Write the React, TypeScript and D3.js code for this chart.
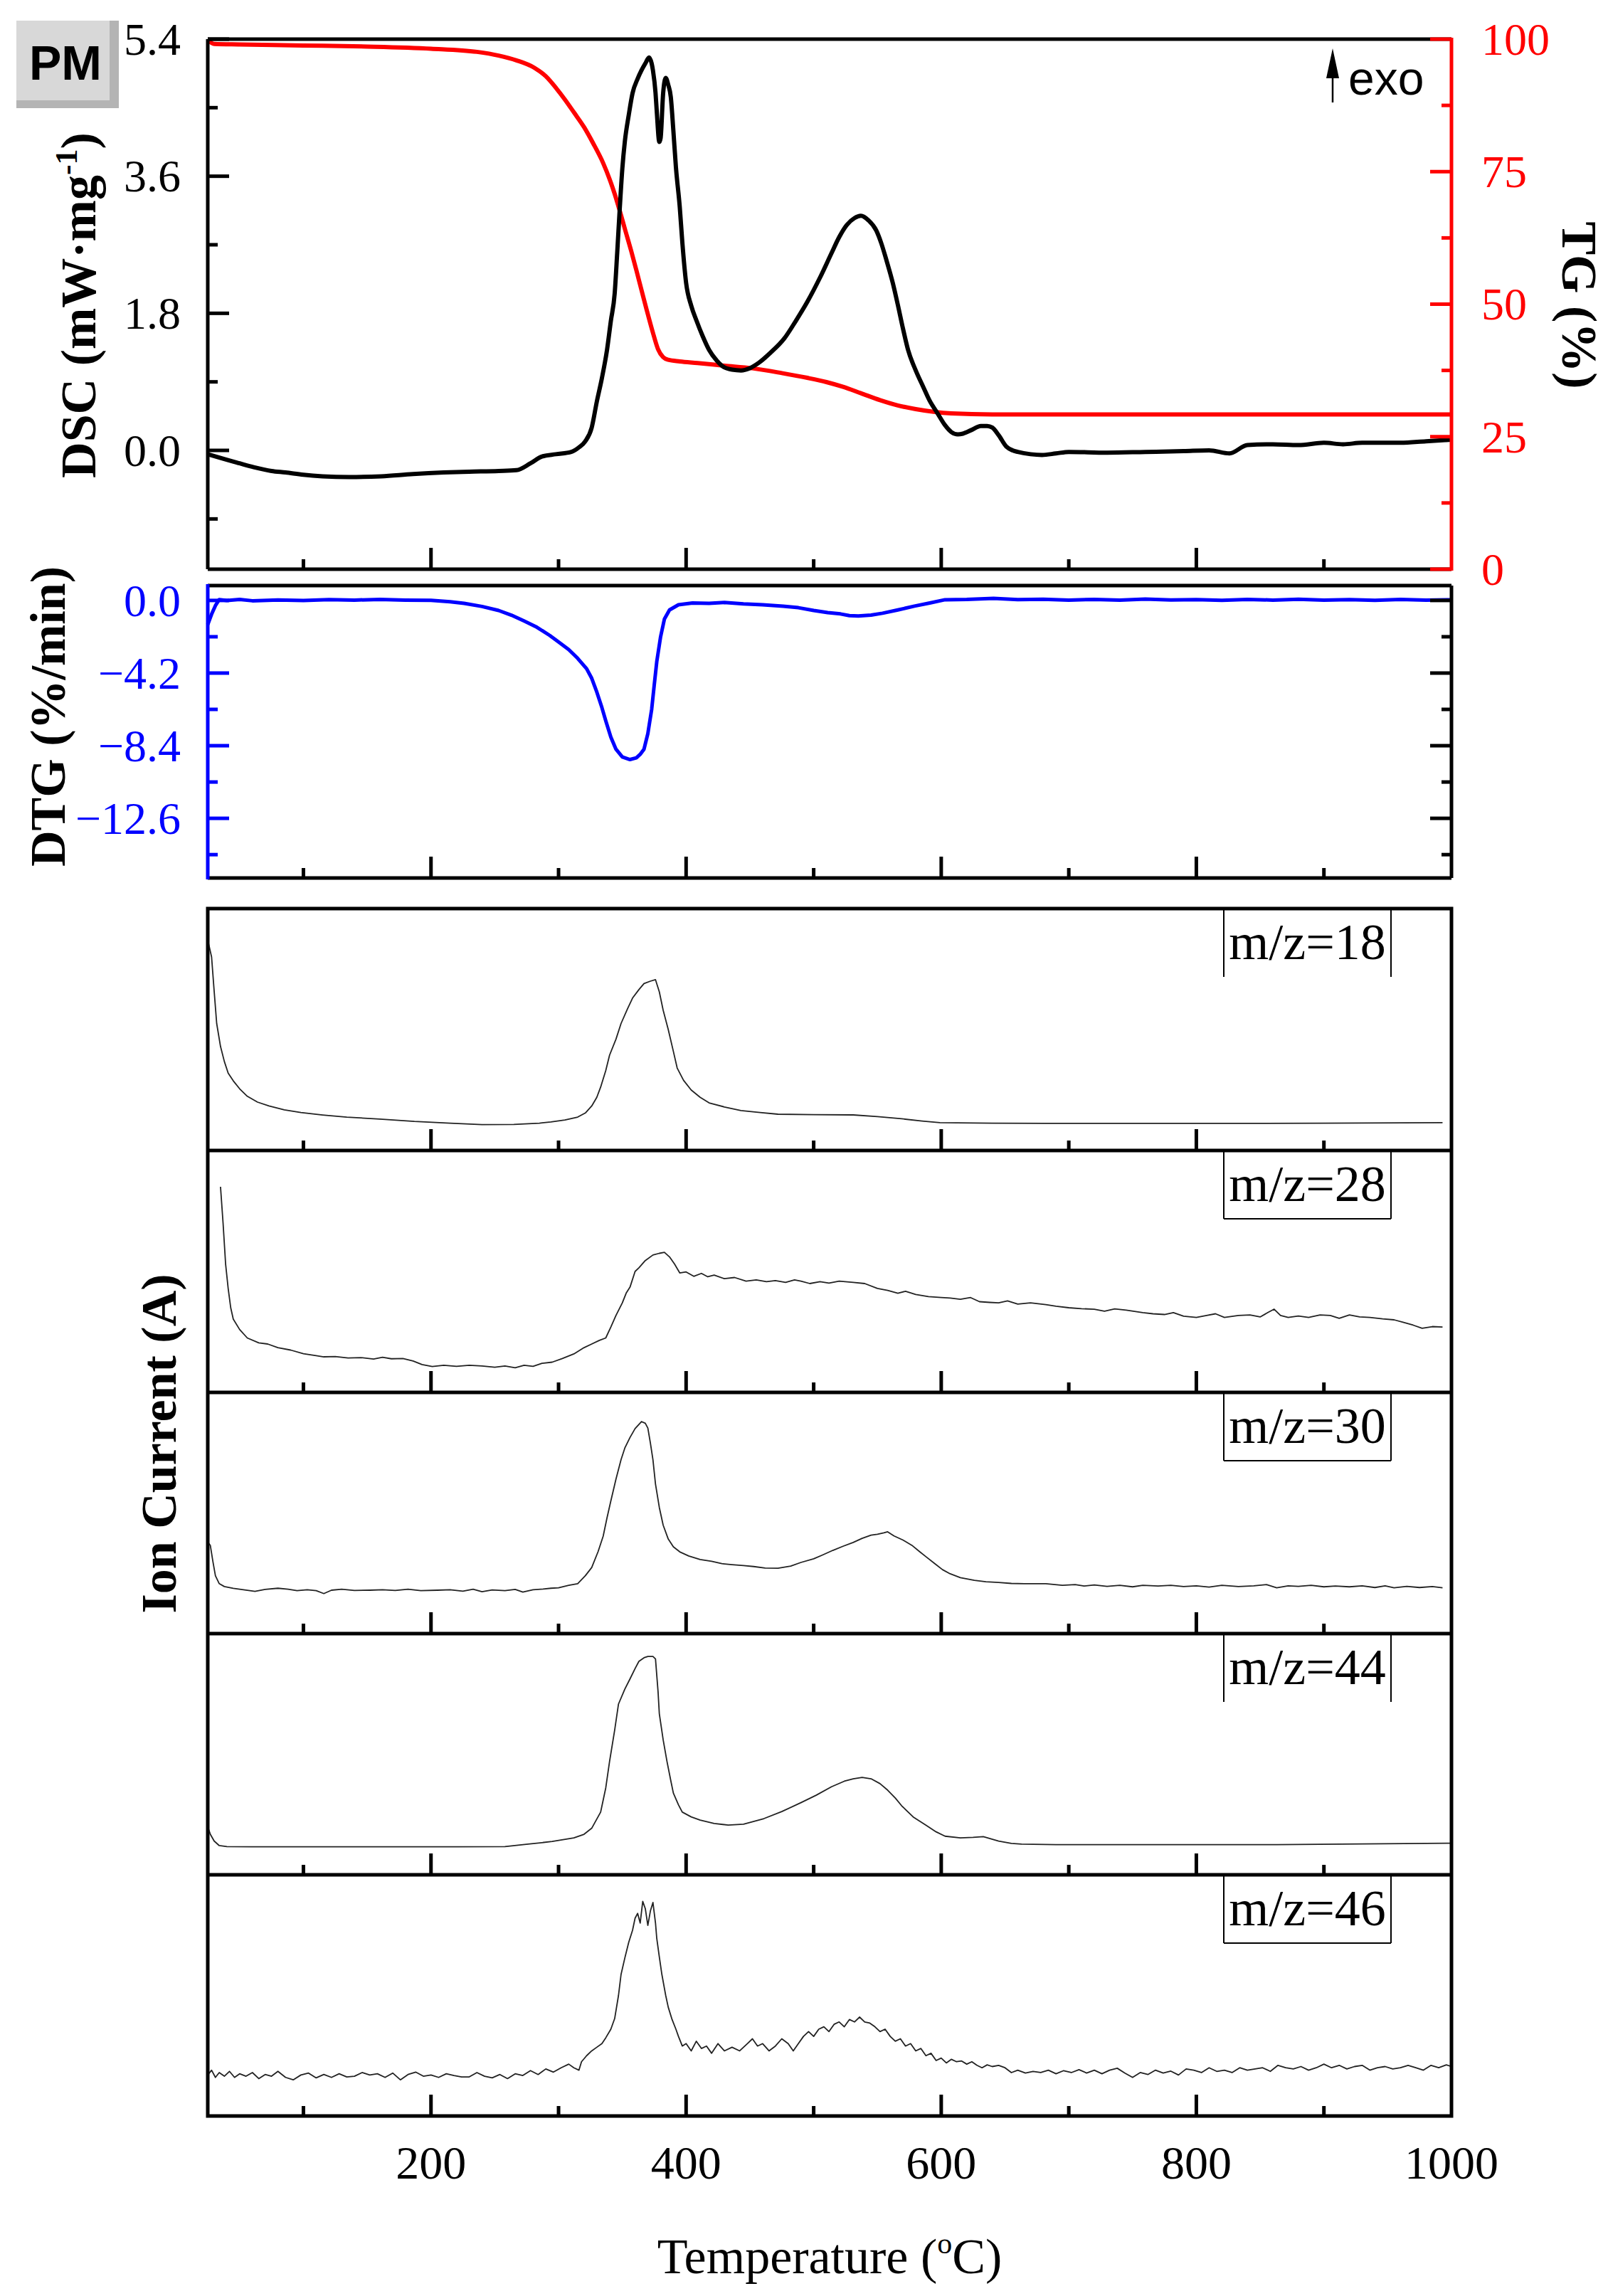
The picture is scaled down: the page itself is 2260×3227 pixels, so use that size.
import * as React from 'react'
import * as d3 from 'd3'

// temperature axis
const xMajor = [200, 400, 600, 800, 1000]
const xMinor = [100, 300, 500, 700, 900]
const xLabels = [200, 400, 600, 800, 1000]

// DSC (left) / TG (right) axis ticks
const dscMajor = [5.4, 3.6, 1.8, 0.0]
const dscMinor = [4.5, 2.7, 0.9, -0.9]
const tgMajor = [0, 25, 50, 75, 100]
const tgMinor = [12.5, 37.5, 62.5, 87.5]

// DTG axis ticks
const dtgMajor = [0.0, -4.2, -8.4, -12.6]
const dtgMinor = [-2.1, -6.3, -10.5, -14.7]

// [°C, mW/mg]
const dsc: [number, number][] = [
  [25, -0.05], [35, -0.1], [50, -0.17], [61, -0.22], [75, -0.27], [86, -0.29], [100, -0.32], [115, -0.34],
  [136, -0.35], [161, -0.34], [186, -0.31], [210, -0.29], [230, -0.28], [253, -0.27], [267, -0.26], [278, -0.17],
  [287, -0.08], [298, -0.05], [310, -0.02], [316, 0.04], [321, 0.12], [326, 0.3], [330, 0.64], [334, 0.95],
  [338, 1.32], [341, 1.7], [344, 2.06], [346, 2.6], [348, 3.18], [350, 3.7], [352, 4.06], [355, 4.4],
  [358, 4.69], [362, 4.88], [365, 4.99], [368, 5.08], [371, 5.16], [373, 5.08], [374, 4.99], [376, 4.7],
  [377, 4.45], [379, 4.05], [380, 4.1], [382, 4.69], [384, 4.89], [386, 4.8], [388, 4.64], [390, 4.2],
  [392, 3.72], [395, 3.2], [397, 2.74], [400, 2.2], [404, 1.9], [408, 1.71], [413, 1.5], [418, 1.32],
  [424, 1.18], [429, 1.1], [436, 1.06], [443, 1.05], [450, 1.08], [457, 1.15], [466, 1.28], [477, 1.47],
  [486, 1.7], [495, 1.95], [505, 2.27], [514, 2.59], [520, 2.8], [526, 2.96], [532, 3.05], [537, 3.08],
  [543, 3.02], [549, 2.89], [553, 2.72], [557, 2.5], [562, 2.2], [566, 1.91], [570, 1.6], [574, 1.32],
  [580, 1.05], [586, 0.83], [591, 0.65], [597, 0.49], [603, 0.33], [608, 0.24], [613, 0.21], [617, 0.22],
  [624, 0.27], [631, 0.32], [636, 0.32], [640, 0.3], [645, 0.2], [651, 0.05], [656, 0.0], [660, -0.02],
  [670, -0.05], [679, -0.06], [690, -0.04], [700, -0.02], [730, -0.03], [760, -0.02], [790, -0.01], [810, 0.0],
  [826, -0.04], [840, 0.07], [860, 0.08], [880, 0.07], [900, 0.1], [915, 0.08], [930, 0.1], [960, 0.1],
  [980, 0.12], [1000, 0.14],
]

// [°C, %]
const tg: [number, number][] = [
  [25, 99.8], [30, 99.1], [50, 99.0], [100, 98.8], [150, 98.6], [200, 98.2], [236, 97.6], [253, 96.9],
  [267, 96.0], [281, 94.6], [290, 93.0], [298, 90.8], [305, 88.6], [312, 86.2], [320, 83.4], [327, 80.4],
  [335, 76.6], [340, 73.6], [344, 70.8], [348, 67.6], [352, 64.2], [357, 60.0], [361, 56.4], [365, 52.7],
  [369, 49.0], [374, 44.6], [378, 41.5], [382, 40.0], [386, 39.5], [395, 39.2], [409, 38.9], [430, 38.4],
  [452, 37.9], [475, 37.0], [495, 36.1], [510, 35.3], [523, 34.4], [537, 33.2], [552, 31.9], [566, 30.9],
  [580, 30.2], [594, 29.7], [608, 29.4], [640, 29.2], [700, 29.2], [800, 29.2], [900, 29.2], [1000, 29.2],
]

// [°C, %/min]
const dtg: [number, number][] = [
  [25, -1.4], [28, -0.8], [31, -0.3], [34, 0.05], [40, 0.0], [50, 0.06], [60, -0.02], [80, 0.03],
  [100, 0.0], [120, 0.05], [140, 0.02], [160, 0.06], [180, 0.02], [200, 0.01], [215, -0.08], [226, -0.17],
  [240, -0.35], [253, -0.58], [263, -0.85], [273, -1.19], [283, -1.55], [293, -2.02], [300, -2.4], [308, -2.84],
  [315, -3.35], [322, -3.95], [326, -4.5], [330, -5.3], [334, -6.2], [337, -6.96], [341, -7.9], [345, -8.6],
  [350, -9.05], [356, -9.2], [361, -9.1], [364, -8.9], [367, -8.6], [370, -7.7], [373, -6.3], [375, -4.9],
  [377, -3.54], [380, -2.1], [383, -1.07], [387, -0.55], [394, -0.25], [405, -0.15], [418, -0.17], [430, -0.12],
  [445, -0.2], [460, -0.25], [476, -0.33], [488, -0.42], [500, -0.58], [511, -0.7], [521, -0.78], [528, -0.88],
  [535, -0.9], [545, -0.85], [554, -0.74], [566, -0.55], [579, -0.33], [591, -0.15], [603, 0.04], [620, 0.06],
  [641, 0.12], [660, 0.05], [680, 0.07], [700, 0.02], [720, 0.06], [740, 0.02], [760, 0.08], [780, 0.03],
  [800, 0.05], [820, 0.01], [840, 0.06], [860, 0.02], [880, 0.07], [900, 0.02], [920, 0.05], [940, 0.01],
  [960, 0.06], [980, 0.02], [1000, 0.04],
]

// ion currents, relative height within each panel
const ms18: [number, number][] = [
  [25, 0.87], [28, 0.8], [30, 0.66], [32, 0.525], [35, 0.43], [38, 0.368], [41, 0.32], [45, 0.288],
  [50, 0.255], [56, 0.224], [64, 0.2], [73, 0.184], [85, 0.168], [98, 0.157], [115, 0.147], [134, 0.138],
  [160, 0.13], [187, 0.12], [215, 0.113], [240, 0.107], [265, 0.108], [285, 0.113], [294, 0.118], [305, 0.126],
  [315, 0.138], [321, 0.155], [326, 0.184], [330, 0.22], [333, 0.262], [337, 0.33], [340, 0.394], [345, 0.46],
  [349, 0.525], [354, 0.585], [358, 0.63], [363, 0.665], [367, 0.69], [372, 0.7], [376, 0.706], [379, 0.656],
  [382, 0.58], [386, 0.5], [390, 0.41], [393, 0.341], [398, 0.29], [404, 0.25], [411, 0.22], [418, 0.197],
  [430, 0.18], [443, 0.165], [458, 0.157], [472, 0.15], [500, 0.148], [531, 0.147], [550, 0.14], [569, 0.131],
  [585, 0.122], [599, 0.115], [640, 0.113], [682, 0.112], [750, 0.112], [833, 0.112], [900, 0.113], [993, 0.115],
]

const ms28: [number, number][] = [
  [35, 0.85], [37, 0.7], [39, 0.53], [41, 0.43], [43, 0.35], [45, 0.303], [50, 0.26], [56, 0.225],
  [65, 0.205], [72, 0.2], [80, 0.185], [90, 0.175], [100, 0.16], [110, 0.152], [116, 0.147], [125, 0.148],
  [135, 0.142], [145, 0.144], [155, 0.138], [162, 0.145], [169, 0.139], [178, 0.14], [186, 0.13], [193, 0.115],
  [201, 0.107], [210, 0.112], [220, 0.108], [230, 0.112], [240, 0.109], [250, 0.104], [258, 0.109], [266, 0.102],
  [273, 0.112], [280, 0.108], [287, 0.12], [295, 0.125], [303, 0.14], [312, 0.159], [320, 0.185], [326, 0.2],
  [332, 0.215], [337, 0.225], [341, 0.27], [345, 0.318], [350, 0.37], [353, 0.41], [356, 0.435], [360, 0.5],
  [363, 0.515], [368, 0.545], [374, 0.568], [379, 0.575], [383, 0.579], [387, 0.56], [391, 0.53], [395, 0.494],
  [400, 0.498], [406, 0.48], [412, 0.492], [417, 0.478], [422, 0.485], [430, 0.47], [438, 0.475], [447, 0.46],
  [455, 0.465], [463, 0.458], [470, 0.462], [478, 0.455], [485, 0.465], [490, 0.46], [497, 0.45], [505, 0.458],
  [512, 0.452], [520, 0.46], [531, 0.455], [540, 0.45], [550, 0.43], [558, 0.422], [566, 0.41], [572, 0.418],
  [580, 0.405], [590, 0.396], [600, 0.392], [607, 0.39], [615, 0.385], [623, 0.392], [630, 0.375], [638, 0.372],
  [645, 0.37], [652, 0.378], [660, 0.365], [670, 0.37], [682, 0.363], [690, 0.356], [700, 0.35], [710, 0.346],
  [720, 0.344], [728, 0.336], [736, 0.345], [745, 0.34], [758, 0.33], [766, 0.325], [775, 0.322], [782, 0.33],
  [790, 0.315], [800, 0.31], [808, 0.318], [815, 0.325], [822, 0.31], [833, 0.318], [842, 0.32], [850, 0.312],
  [856, 0.33], [861, 0.344], [866, 0.318], [872, 0.31], [880, 0.316], [888, 0.31], [897, 0.32], [905, 0.318],
  [912, 0.306], [920, 0.32], [928, 0.312], [936, 0.31], [946, 0.304], [955, 0.3], [962, 0.29], [970, 0.278],
  [977, 0.265], [985, 0.272], [993, 0.27],
]

const ms30: [number, number][] = [
  [25, 0.38], [27, 0.366], [29, 0.3], [31, 0.24], [34, 0.207], [38, 0.195], [45, 0.188], [55, 0.18],
  [62, 0.175], [70, 0.183], [80, 0.188], [88, 0.184], [95, 0.178], [103, 0.182], [110, 0.178], [116, 0.166],
  [122, 0.18], [130, 0.184], [140, 0.179], [152, 0.18], [162, 0.182], [172, 0.179], [182, 0.184], [192, 0.178],
  [205, 0.18], [215, 0.182], [225, 0.176], [233, 0.184], [240, 0.174], [248, 0.181], [258, 0.178], [266, 0.183],
  [272, 0.172], [280, 0.182], [288, 0.185], [294, 0.188], [300, 0.19], [308, 0.2], [315, 0.207], [321, 0.24],
  [326, 0.274], [331, 0.34], [335, 0.404], [338, 0.48], [341, 0.55], [345, 0.64], [349, 0.721], [352, 0.77],
  [356, 0.813], [360, 0.85], [365, 0.879], [368, 0.872], [370, 0.852], [372, 0.79], [374, 0.721], [376, 0.62],
  [379, 0.523], [382, 0.45], [386, 0.392], [390, 0.36], [395, 0.339], [402, 0.322], [411, 0.307], [420, 0.3],
  [428, 0.29], [436, 0.286], [445, 0.282], [453, 0.278], [462, 0.272], [472, 0.271], [482, 0.28], [490, 0.295],
  [500, 0.31], [507, 0.326], [515, 0.345], [523, 0.362], [531, 0.378], [538, 0.395], [545, 0.408], [550, 0.412],
  [555, 0.418], [558, 0.422], [563, 0.405], [570, 0.388], [577, 0.366], [583, 0.34], [588, 0.319], [595, 0.29],
  [601, 0.265], [607, 0.248], [615, 0.232], [626, 0.221], [635, 0.215], [645, 0.212], [655, 0.208], [665, 0.207],
  [682, 0.207], [695, 0.2], [705, 0.203], [712, 0.197], [720, 0.202], [730, 0.196], [740, 0.2], [750, 0.194],
  [758, 0.2], [770, 0.197], [780, 0.2], [790, 0.195], [800, 0.198], [810, 0.193], [820, 0.2], [833, 0.195],
  [845, 0.198], [855, 0.203], [863, 0.19], [872, 0.198], [880, 0.196], [890, 0.2], [900, 0.194], [909, 0.197],
  [920, 0.194], [930, 0.198], [940, 0.191], [948, 0.198], [955, 0.19], [965, 0.196], [975, 0.191], [985, 0.195],
  [993, 0.19],
]

const ms44: [number, number][] = [
  [25, 0.2], [27, 0.168], [30, 0.14], [34, 0.121], [40, 0.117], [60, 0.116], [80, 0.116], [120, 0.116],
  [180, 0.116], [220, 0.116], [258, 0.117], [276, 0.127], [295, 0.138], [312, 0.153], [320, 0.168], [326, 0.193],
  [333, 0.26], [337, 0.36], [340, 0.47], [344, 0.6], [347, 0.708], [352, 0.77], [356, 0.812], [360, 0.855],
  [363, 0.885], [367, 0.9], [370, 0.905], [374, 0.905], [376, 0.895], [378, 0.76], [379, 0.668], [382, 0.56],
  [385, 0.47], [388, 0.39], [390, 0.339], [394, 0.29], [397, 0.26], [404, 0.24], [411, 0.227], [422, 0.213],
  [433, 0.206], [445, 0.21], [461, 0.233], [475, 0.262], [490, 0.299], [502, 0.33], [514, 0.365], [524, 0.388],
  [531, 0.398], [538, 0.404], [545, 0.398], [552, 0.378], [558, 0.351], [564, 0.318], [569, 0.286], [578, 0.24],
  [588, 0.206], [596, 0.178], [603, 0.16], [615, 0.153], [625, 0.155], [633, 0.158], [645, 0.14], [655, 0.13],
  [663, 0.127], [690, 0.125], [720, 0.125], [800, 0.125], [863, 0.125], [930, 0.128], [1000, 0.131],
]

const ms46: [number, number][] = [
  [25, 0.17], [28, 0.19], [31, 0.16], [34, 0.18], [38, 0.165], [42, 0.185], [46, 0.16], [50, 0.175],
  [55, 0.165], [60, 0.18], [65, 0.155], [70, 0.172], [75, 0.165], [80, 0.185], [86, 0.16], [92, 0.15],
  [98, 0.17], [104, 0.178], [110, 0.158], [116, 0.172], [122, 0.16], [128, 0.175], [134, 0.162], [140, 0.165],
  [146, 0.18], [152, 0.17], [158, 0.175], [164, 0.16], [170, 0.178], [176, 0.15], [182, 0.172], [188, 0.182],
  [194, 0.165], [200, 0.17], [206, 0.16], [212, 0.175], [218, 0.168], [224, 0.162], [230, 0.162], [236, 0.18],
  [242, 0.165], [248, 0.158], [254, 0.172], [260, 0.155], [266, 0.175], [272, 0.168], [278, 0.188], [284, 0.172],
  [290, 0.195], [296, 0.182], [302, 0.2], [308, 0.215], [312, 0.2], [316, 0.19], [318, 0.225], [322, 0.25],
  [326, 0.27], [330, 0.285], [334, 0.3], [337, 0.324], [341, 0.36], [344, 0.404], [347, 0.5], [349, 0.587],
  [352, 0.656], [355, 0.72], [358, 0.77], [360, 0.82], [362, 0.84], [364, 0.8], [366, 0.89], [368, 0.86],
  [370, 0.79], [372, 0.85], [374, 0.885], [376, 0.8], [377, 0.736], [379, 0.66], [381, 0.587], [384, 0.5],
  [386, 0.451], [389, 0.4], [392, 0.36], [394, 0.33], [397, 0.29], [400, 0.3], [404, 0.27], [408, 0.31],
  [412, 0.28], [416, 0.29], [420, 0.26], [425, 0.3], [430, 0.27], [436, 0.285], [442, 0.27], [448, 0.3],
  [452, 0.32], [456, 0.29], [460, 0.3], [465, 0.27], [470, 0.29], [475, 0.32], [480, 0.3], [484, 0.27],
  [488, 0.3], [492, 0.33], [496, 0.35], [500, 0.33], [504, 0.36], [508, 0.37], [512, 0.35], [516, 0.38],
  [520, 0.39], [524, 0.37], [528, 0.4], [532, 0.39], [536, 0.41], [540, 0.39], [544, 0.385], [548, 0.37],
  [552, 0.35], [556, 0.36], [560, 0.33], [564, 0.31], [568, 0.32], [572, 0.29], [576, 0.3], [580, 0.27],
  [584, 0.28], [588, 0.25], [592, 0.26], [596, 0.23], [600, 0.24], [604, 0.22], [608, 0.235], [612, 0.225],
  [616, 0.228], [620, 0.215], [624, 0.225], [628, 0.21], [632, 0.2], [636, 0.212], [640, 0.205], [645, 0.21],
  [650, 0.2], [655, 0.18], [660, 0.19], [666, 0.178], [672, 0.185], [678, 0.18], [684, 0.19], [690, 0.175],
  [696, 0.188], [702, 0.18], [708, 0.192], [714, 0.178], [720, 0.19], [726, 0.175], [732, 0.19], [738, 0.198],
  [744, 0.178], [750, 0.16], [756, 0.18], [762, 0.172], [768, 0.19], [774, 0.178], [780, 0.186], [786, 0.17],
  [792, 0.195], [798, 0.19], [804, 0.18], [810, 0.2], [816, 0.185], [822, 0.19], [828, 0.18], [834, 0.2],
  [840, 0.19], [846, 0.195], [852, 0.2], [858, 0.185], [864, 0.21], [870, 0.2], [876, 0.195], [882, 0.205],
  [888, 0.19], [894, 0.2], [900, 0.215], [906, 0.2], [912, 0.21], [918, 0.195], [924, 0.205], [930, 0.21],
  [936, 0.19], [942, 0.2], [948, 0.205], [954, 0.195], [960, 0.2], [966, 0.21], [972, 0.2], [978, 0.19],
  [984, 0.21], [990, 0.2], [996, 0.212], [1000, 0.205],
]

const msSeries = [ms18, ms28, ms30, ms44, ms46]
const msLabels = ['m/z=18', 'm/z=28', 'm/z=30', 'm/z=44', 'm/z=46']
const msBoxClosed = [false, true, true, false, true]

const W = 2260
const H = 3227
const serif = '"Liberation Serif", "Times New Roman", serif'
const sans = '"Liberation Sans", Arial, sans-serif'

const left = 292
const right = 2040
const topPanel = { y0: 55, y1: 800 }
const dtgPanel = { y0: 823, y1: 1234 }
const msEdges = [1277, 1617, 1957, 2296, 2635, 2974]

const FRAME = 5
const MAJOR = 30
const MINOR = 14
const fmt = (v: number) => (v < 0 ? '\u2212' : '') + Math.abs(v).toFixed(1)

const BottomTicks = ({ x, y }: { x: d3.ScaleLinear<number, number>; y: number }) => (
  <g stroke="#000" strokeWidth={5}>
    {xMajor.filter(t => t < 1000).map(t => <line key={'M' + t} x1={x(t)} x2={x(t)} y1={y} y2={y - MAJOR} />)}
    {xMinor.map(t => <line key={'m' + t} x1={x(t)} x2={x(t)} y1={y} y2={y - MINOR} />)}
  </g>
)

export default function App() {
  const x = d3.scaleLinear().domain([25, 1000]).range([left, right])
  const yDsc = d3.scaleLinear().domain([-1.56, 5.4]).range([topPanel.y1, topPanel.y0])
  const yTg = d3.scaleLinear().domain([0, 100]).range([topPanel.y1, topPanel.y0])
  const yDtg = d3.scaleLinear().domain([-16.05, 0.86]).range([dtgPanel.y1, dtgPanel.y0])

  const lineOf = (y: d3.ScaleLinear<number, number>, curve: d3.CurveFactory) =>
    d3.line<[number, number]>().x(d => x(d[0])).y(d => y(d[1])).curve(curve)

  const dscPath = lineOf(yDsc, d3.curveMonotoneX)(dsc) || ''
  const tgPath = lineOf(yTg, d3.curveMonotoneX)(tg) || ''
  const dtgPath = lineOf(yDtg, d3.curveLinear)(dtg) || ''

  const msScales = msSeries.map((_, i) =>
    d3.scaleLinear().domain([0, 1]).range([msEdges[i + 1], msEdges[i]]))

  return (
    <svg width={W} height={H} viewBox={`0 0 ${W} ${H}`}
      style={{ position: 'absolute', left: 0, top: 0, background: '#fff' }}>
      <rect width={W} height={H} fill="#fff" />

      {/* PM badge */}
      <rect x={23} y={29} width={144} height={123} fill="#b4b4b4" />
      <rect x={23} y={29} width={131} height={112} fill="#d8d8d8" />
      <text x={92} y={112} textAnchor="middle" fontFamily={sans} fontWeight="bold" fontSize={68}>PM</text>

      {/* ---------- DSC / TG panel ---------- */}
      <path d={tgPath} fill="none" stroke="#ff0000" strokeWidth={6} />
      <path d={dscPath} fill="none" stroke="#000" strokeWidth={6} strokeLinejoin="round" />

      <g stroke="#000" strokeWidth={FRAME}>
        <line x1={left} x2={right} y1={topPanel.y0} y2={topPanel.y0} />
        <line x1={left} x2={right} y1={topPanel.y1} y2={topPanel.y1} />
        <line x1={left} x2={left} y1={topPanel.y0} y2={topPanel.y1} />
        {dscMajor.map(t => <line key={t} x1={left} x2={left + MAJOR} y1={yDsc(t)} y2={yDsc(t)} />)}
        {dscMinor.map(t => <line key={t} x1={left} x2={left + MINOR} y1={yDsc(t)} y2={yDsc(t)} />)}
      </g>
      <BottomTicks x={x} y={topPanel.y1} />
      <g stroke="#ff0000" strokeWidth={FRAME}>
        <line x1={right} x2={right} y1={topPanel.y0 - 2} y2={topPanel.y1 + 2} />
        {tgMajor.map(t => <line key={t} x1={right} x2={right - MAJOR} y1={yTg(t)} y2={yTg(t)} />)}
        {tgMinor.map(t => <line key={t} x1={right} x2={right - MINOR} y1={yTg(t)} y2={yTg(t)} />)}
      </g>

      <g fontFamily={serif} fontSize={64}>
        {dscMajor.map(t => (
          <text key={t} x={254} y={yDsc(t)} dy="0.34em" textAnchor="end">{fmt(t)}</text>
        ))}
        {tgMajor.map(t => (
          <text key={t} x={2082} y={yTg(t)} dy="0.34em" fill="#ff0000">{t}</text>
        ))}
      </g>

      <text transform={`translate(134, 429) rotate(-90)`} textAnchor="middle"
        fontFamily={serif} fontWeight="bold" fontSize={70}>
        DSC (mW·mg<tspan fontSize={44} dy={-26}>-1</tspan><tspan dy={26}>)</tspan>
      </text>
      <text transform={`translate(2196, 429) rotate(90)`} textAnchor="middle"
        fontFamily={serif} fontWeight="bold" fontSize={70}>TG (%)</text>

      {/* exo marker */}
      <line x1={1873} x2={1873} y1={144} y2={100} stroke="#000" strokeWidth={2.5} />
      <polygon points="1864,110 1882,110 1873,68" fill="#000" />
      <text x={1895} y={133} fontFamily={sans} fontSize={66}>exo</text>

      {/* ---------- DTG panel ---------- */}
      <path d={dtgPath} fill="none" stroke="#0000ff" strokeWidth={5} strokeLinejoin="round" />
      <g stroke="#000" strokeWidth={FRAME}>
        <line x1={left} x2={right} y1={dtgPanel.y0} y2={dtgPanel.y0} />
        <line x1={left} x2={right} y1={dtgPanel.y1} y2={dtgPanel.y1} />
        <line x1={right} x2={right} y1={dtgPanel.y0} y2={dtgPanel.y1} />
        {dtgMajor.map(t => <line key={t} x1={right} x2={right - MAJOR} y1={yDtg(t)} y2={yDtg(t)} />)}
        {dtgMinor.map(t => <line key={t} x1={right} x2={right - MINOR} y1={yDtg(t)} y2={yDtg(t)} />)}
      </g>
      <BottomTicks x={x} y={dtgPanel.y1} />
      <g stroke="#0000ff" strokeWidth={FRAME}>
        <line x1={left} x2={left} y1={dtgPanel.y0 - 2} y2={dtgPanel.y1 + 2} />
        {dtgMajor.map(t => <line key={t} x1={left} x2={left + MAJOR} y1={yDtg(t)} y2={yDtg(t)} />)}
        {dtgMinor.map(t => <line key={t} x1={left} x2={left + MINOR} y1={yDtg(t)} y2={yDtg(t)} />)}
      </g>
      <g fontFamily={serif} fontSize={64} fill="#0000ff">
        {dtgMajor.map(t => (
          <text key={t} x={254} y={yDtg(t)} dy="0.34em" textAnchor="end">{fmt(t)}</text>
        ))}
      </g>
      <text transform={`translate(91, 1007) rotate(-90)`} textAnchor="middle"
        fontFamily={serif} fontWeight="bold" fontSize={70}>DTG (%/min)</text>

      {/* ---------- MS panels ---------- */}
      {msSeries.map((s, i) => {
        const y = msScales[i]
        const p = lineOf(y, d3.curveLinear)(s) || ''
        const top = msEdges[i]
        const bx0 = 1720
        const bx1 = 1955
        const by1 = top + 96
        return (
          <g key={msLabels[i]}>
            <path d={p} fill="none" stroke="#222" strokeWidth={1.8} strokeLinejoin="round" />
            <BottomTicks x={x} y={msEdges[i + 1]} />
            <g stroke="#000" strokeWidth={2}>
              <line x1={bx0} x2={bx0} y1={top} y2={by1} />
              <line x1={bx1} x2={bx1} y1={top} y2={by1} />
              {msBoxClosed[i] && <line x1={bx0} x2={bx1} y1={by1} y2={by1} />}
            </g>
            <text x={(bx0 + bx1) / 2} y={top + 71} textAnchor="middle" fontFamily={serif} fontSize={72}>
              {msLabels[i]}
            </text>
          </g>
        )
      })}
      <g stroke="#000" strokeWidth={FRAME} fill="none">
        <rect x={left} y={msEdges[0]} width={right - left} height={msEdges[5] - msEdges[0]} />
        {msEdges.slice(1, 5).map(e => <line key={e} x1={left} x2={right} y1={e} y2={e} />)}
      </g>
      <text transform={`translate(247, 2029) rotate(-90)`} textAnchor="middle"
        fontFamily={serif} fontWeight="bold" fontSize={70}>Ion Current (A)</text>

      {/* temperature axis labels */}
      <g fontFamily={serif} fontSize={66} textAnchor="middle">
        {xLabels.map(t => <text key={t} x={x(t)} y={3062}>{t}</text>)}
      </g>
      <text x={(left + right) / 2} y={3195} textAnchor="middle" fontFamily={serif} fontSize={70}>
        Temperature (<tspan fontSize={42} dy={-28}>o</tspan><tspan dy={28}>C)</tspan>
      </text>
    </svg>
  )
}
